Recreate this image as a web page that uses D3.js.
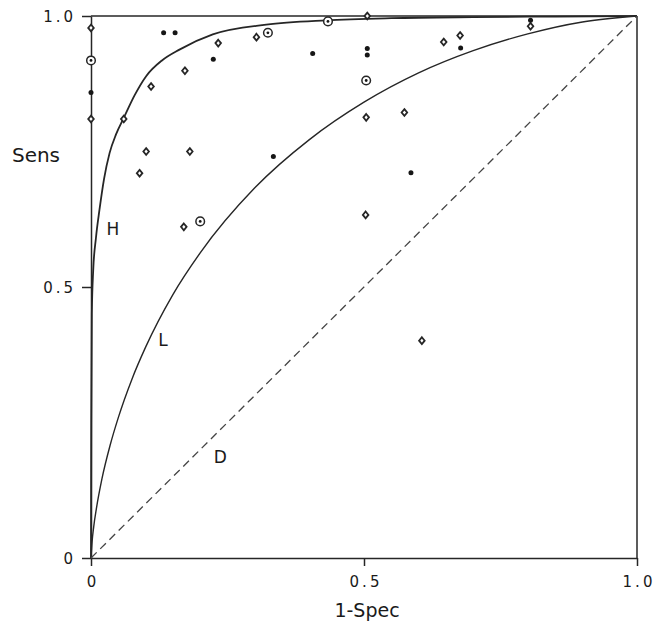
<!DOCTYPE html>
<html>
<head>
<meta charset="utf-8">
<script src="https://cdn.jsdelivr.net/npm/d3@7"></script>
<style>
  html, body { margin: 0; padding: 0; background: #ffffff; }
  svg { display: block; }
  text { font-family: "DejaVu Sans", sans-serif; fill: #1a1a1a; }
</style>
</head>
<body>
<svg id="chart" width="655" height="625"></svg>
<script>
// ---- data ----
const xTicks = [0, 0.5, 1.0];
const yTicks = [0, 0.5, 1.0];
const tickLabels = ["0", "0.5", "1.0"];

// curve H (high accuracy ROC)
const hX = [0, 0.0005, 0.0015, 0.004, 0.009, 0.0156, 0.024, 0.034, 0.046, 0.06, 0.08, 0.101, 0.13, 0.162, 0.223, 0.321, 0.43, 0.55, 0.7, 0.85, 1.0];
const hY = [0, 0.25, 0.45, 0.53, 0.59, 0.643, 0.70, 0.747, 0.782, 0.812, 0.854, 0.889, 0.918, 0.938, 0.966, 0.984, 0.992, 0.996, 0.998, 0.999, 1.0];

// curve L (low accuracy ROC)
const lX = [0, 0.002, 0.005, 0.01, 0.02, 0.035, 0.05, 0.075, 0.1, 0.15, 0.2, 0.3, 0.4, 0.5, 0.6, 0.7, 0.8, 0.9, 1.0];
const lY = [0, 0.030, 0.058, 0.092, 0.146, 0.208, 0.259, 0.330, 0.389, 0.486, 0.563, 0.683, 0.772, 0.841, 0.895, 0.936, 0.967, 0.989, 1.0];

// chance diagonal D
const dX = [0, 1];
const dY = [0, 1];

// study points: open diamonds
const diamondX = [0, 0, 0.233, 0.303, 0.172, 0.110, 0.060, 0.101, 0.181, 0.089, 0.170, 0.506, 0.504, 0.574, 0.646, 0.676, 0.805, 0.503, 0.606];
const diamondY = [0.978, 0.810, 0.950, 0.961, 0.899, 0.870, 0.810, 0.750, 0.750, 0.710, 0.611, 1.0, 0.813, 0.822, 0.952, 0.964, 0.981, 0.633, 0.401];
// filled dots
const dotX = [0, 0.133, 0.154, 0.224, 0.334, 0.406, 0.506, 0.506, 0.677, 0.805, 0.586];
const dotY = [0.859, 0.969, 0.969, 0.920, 0.741, 0.931, 0.940, 0.928, 0.941, 0.992, 0.711];
// circled dots
const circX = [0, 0.324, 0.200, 0.434, 0.504];
const circY = [0.918, 0.969, 0.621, 0.990, 0.881];

// curve labels
const curveLabels = ["H", "L", "D"];
const curveLabelX = [0.04, 0.132, 0.237];
const curveLabelY = [0.607, 0.402, 0.186];

// ---- drawing ----
const svg = d3.select("#chart");
const ink = "#262626";
const x = d3.scaleLinear().domain([0, 1]).range([91, 637]);
const y = d3.scaleLinear().domain([0, 1]).range([558, 16]);

const fmt = d => tickLabels[xTicks.indexOf(d)];

// axes
const gx = svg.append("g").attr("transform", "translate(0,558)")
  .call(d3.axisBottom(x).tickValues(xTicks).tickFormat(fmt).tickSize(8).tickSizeOuter(0).tickPadding(10));
const gy = svg.append("g").attr("transform", "translate(91,0)")
  .call(d3.axisLeft(y).tickValues(yTicks).tickFormat(fmt).tickSize(9).tickSizeOuter(0).tickPadding(6));

[gx, gy].forEach(g => {
  g.select(".domain").attr("stroke", ink).attr("stroke-width", 1.5);
  g.selectAll(".tick line").attr("stroke", ink).attr("stroke-width", 1.5);
  g.selectAll(".tick text")
    .style("font-family", "'DejaVu Sans', sans-serif")
    .style("font-size", "15px")
    .style("letter-spacing", "3px")
    .attr("fill", "#1a1a1a");
});
gx.selectAll(".tick text").attr("dx", "1.5px");
gy.selectAll(".tick text").attr("dy", "0.36em");

// frame (top and right)
svg.append("line").attr("x1", x(0)).attr("x2", x(1)).attr("y1", y(1)).attr("y2", y(1))
  .attr("stroke", ink).attr("stroke-width", 1.5);
svg.append("line").attr("x1", x(1)).attr("x2", x(1)).attr("y1", y(1)).attr("y2", y(0))
  .attr("stroke", ink).attr("stroke-width", 1.5);

// curves
const line = d3.line().x(d => x(d[0])).y(d => y(d[1])).curve(d3.curveMonotoneX);
svg.append("path").datum(hX.map((v, i) => [v, hY[i]]))
  .attr("d", line).attr("fill", "none").attr("stroke", ink).attr("stroke-width", 1.8);
svg.append("path").datum(lX.map((v, i) => [v, lY[i]]))
  .attr("d", line).attr("fill", "none").attr("stroke", ink).attr("stroke-width", 1.4);
svg.append("path").datum(dX.map((v, i) => [v, dY[i]]))
  .attr("d", d3.line().x(d => x(d[0])).y(d => y(d[1])))
  .attr("fill", "none").attr("stroke", "#444").attr("stroke-width", 1.3)
  .attr("stroke-dasharray", "8,5");

// markers
const diamond = d3.symbol().type(d3.symbolDiamond2).size(22);
svg.append("g").selectAll("path").data(diamondX.map((v, i) => [v, diamondY[i]]))
  .join("path")
  .attr("d", diamond)
  .attr("transform", d => `translate(${x(d[0])},${y(d[1])}) scale(0.95,1.15)`)
  .attr("vector-effect", "non-scaling-stroke")
  .attr("fill", "#fff").attr("stroke", ink).attr("stroke-width", 1.8);

svg.append("g").selectAll("circle").data(dotX.map((v, i) => [v, dotY[i]]))
  .join("circle")
  .attr("cx", d => x(d[0])).attr("cy", d => y(d[1])).attr("r", 2.5)
  .attr("fill", "#161616");

const cg = svg.append("g").selectAll("g").data(circX.map((v, i) => [v, circY[i]]))
  .join("g").attr("transform", d => `translate(${x(d[0])},${y(d[1])})`);
cg.append("circle").attr("r", 4.3).attr("fill", "#fff").attr("stroke", ink).attr("stroke-width", 1.5);
cg.append("circle").attr("r", 1.4).attr("fill", "#161616");

// curve labels
svg.append("g").selectAll("text").data(curveLabels).join("text")
  .attr("x", (d, i) => x(curveLabelX[i])).attr("y", (d, i) => y(curveLabelY[i]))
  .attr("text-anchor", "middle").attr("dy", "0.36em")
  .style("font-size", "17px").text(d => d);

// axis titles
svg.append("text").attr("x", 36).attr("y", 162).attr("text-anchor", "middle")
  .style("font-size", "20px").text("Sens");
svg.append("text").attr("x", 367).attr("y", 617).attr("text-anchor", "middle")
  .style("font-size", "19px").text("1-Spec");
</script>
</body>
</html>
